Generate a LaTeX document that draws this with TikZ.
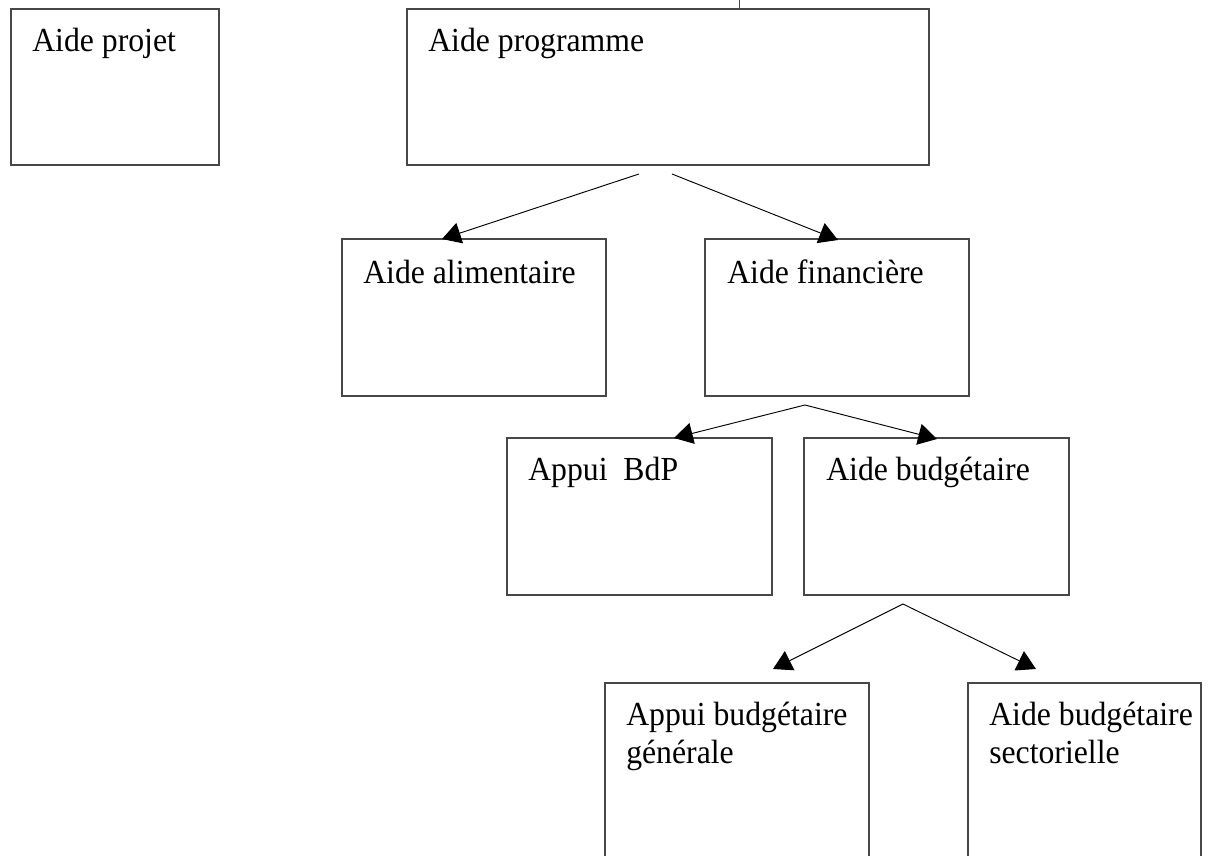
\documentclass[tikz,border=0pt]{standalone}
\usepackage{fontspec}
\usepackage{graphicx}
\setmainfont{Liberation Serif}
\usetikzlibrary{arrows.meta,fit}
\newcommand\vstretchtxt[1]{\scalebox{1}[1.06]{#1}}
\begin{document}
\begin{tikzpicture}[x=0.75pt,y=-0.75pt,
  box/.style={draw=black!72,line width=0.9pt,inner sep=0pt},
  lbl/.style={inner sep=0pt,anchor=base west,font=\fontsize{23.8pt}{28.5pt}\selectfont},
  conn/.style={draw=black,line width=0.7pt,-{Triangle[length=14pt,width=16pt]}}]
\useasboundingbox (0,0) rectangle (1215,856);
\fill[white] (0,0) rectangle (1215,856);
\clip (0,0) rectangle (1215,856);

% boxes
\node[box,fit={(11,9) (219,165)}] (projet) {};
\node[box,fit={(407,9) (929,165)}] (programme) {};
\node[box,fit={(342,239) (606,396)}] (alim) {};
\node[box,fit={(705,239) (969,396)}] (fin) {};
\node[box,fit={(507,438) (772,595)}] (bdp) {};
\node[box,fit={(804,438) (1069,595)}] (budg) {};
\node[box,fit={(605,683) (869,880)}] (gen) {};
\node[box,fit={(968,683) (1201,880)}] (sect) {};

% small tick above programme box
\coordinate (tickA) at (739,0);
\coordinate (tickB) at (739,9);
\draw[black!72,line width=0.6pt] (tickA) -- (tickB);

% labels
\node[lbl] (tprojet) at (32,52) {\vstretchtxt{Aide projet}};
\node[lbl] (tprogramme) at (428,52) {\vstretchtxt{Aide programme}};
\node[lbl] (talim) at (363,283) {\vstretchtxt{Aide alimentaire}};
\node[lbl] (tfin) at (727,283) {\vstretchtxt{Aide financière}};
\node[lbl] (tbdp) at (528,480) {\vstretchtxt{Appui\ \ BdP}};
\node[lbl] (tbudg) at (826,480) {\vstretchtxt{Aide budgétaire}};
\node[lbl] (tgenA) at (626,725) {\vstretchtxt{Appui budgétaire}};
\node[lbl] (tgenB) at (626,763) {\vstretchtxt{générale}};
\node[lbl] (tsectA) at (989,725) {\vstretchtxt{Aide budgétaire}};
\node[lbl] (tsectB) at (989,763) {\vstretchtxt{sectorielle}};

% connector start points and tips
\coordinate (s1) at (639,174);
\coordinate (s2) at (672,174);
\coordinate (s3) at (805,405);
\coordinate (s4) at (903,604);
\coordinate (e1) at (442,239);
\coordinate (e2) at (838,240);
\coordinate (e3) at (674,438);
\coordinate (e4) at (937,439);
\coordinate (e5) at (773,669);
\coordinate (e6) at (1036,669);

\draw[conn] (s1) -- (e1);
\draw[conn] (s2) -- (e2);
\draw[conn] (s3) -- (e3);
\draw[conn] (s3) -- (e4);
\draw[conn] (s4) -- (e5);
\draw[conn] (s4) -- (e6);
\end{tikzpicture}
\end{document}
